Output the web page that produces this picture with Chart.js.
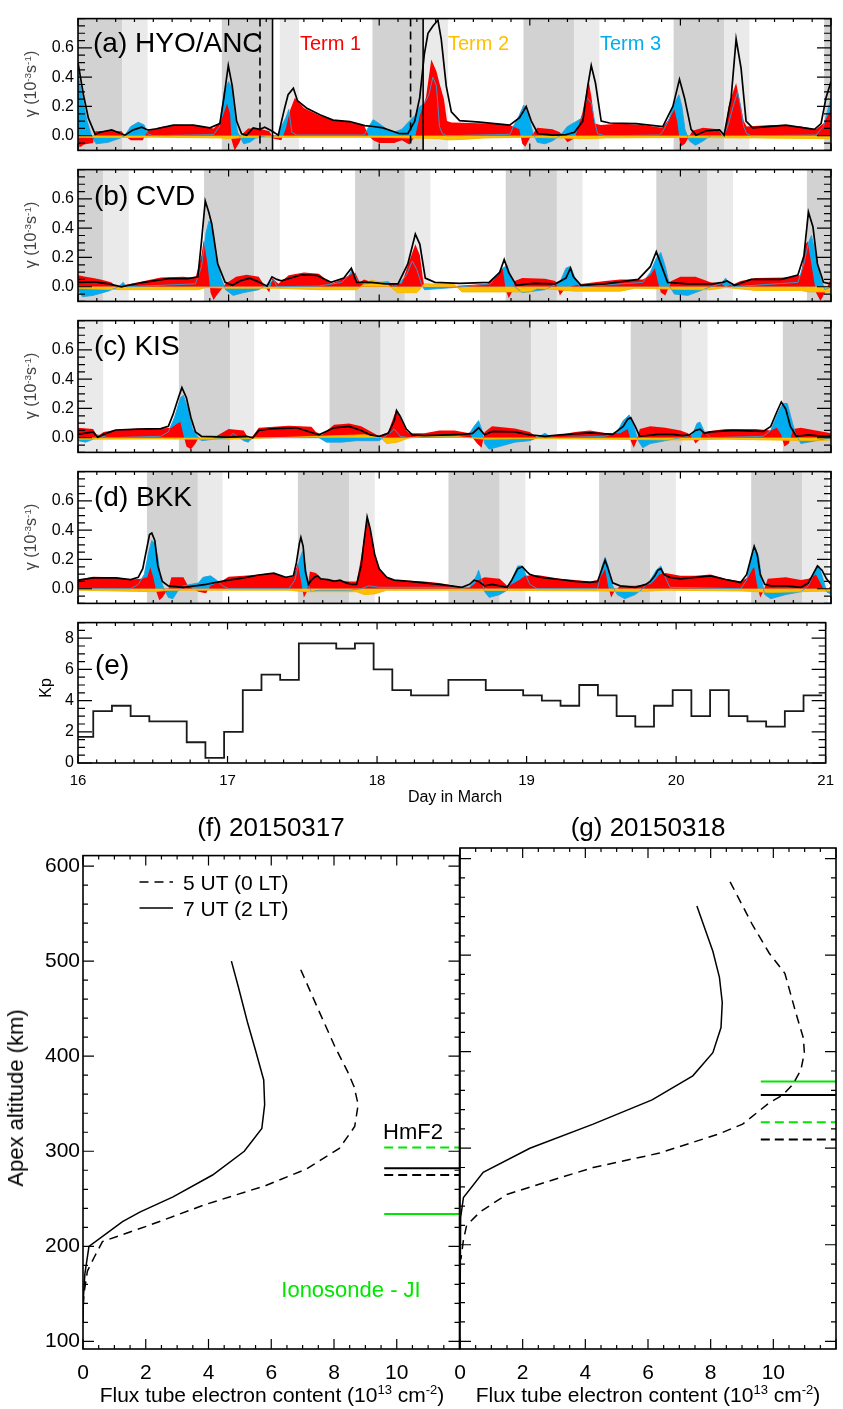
<!DOCTYPE html>
<html><head><meta charset="utf-8">
<script src="https://cdn.jsdelivr.net/npm/chart.js@4.4.0/dist/chart.umd.min.js"></script>
<style>
body{margin:0;background:#fff;width:843px;height:1409px;position:relative;overflow:hidden;font-family:"Liberation Sans",Arial,sans-serif;}
canvas{position:absolute;}
.t{position:absolute;white-space:nowrap;line-height:1;color:#000;}
.c{transform:translate(-50%,-50%);}
.l{transform:translateY(-50%);}
.r{transform:translate(-50%,-50%) rotate(-90deg);}
sup{font-size:62%;vertical-align:0.55em;line-height:0;}
</style></head><body>
<canvas id="pa" width="843" height="159" style="left:0;top:5px"></canvas>
<canvas id="pb" width="843" height="159" style="left:0;top:156px"></canvas>
<canvas id="pc" width="843" height="159" style="left:0;top:307px"></canvas>
<canvas id="pd" width="843" height="159" style="left:0;top:458px"></canvas>
<canvas id="pe" width="843" height="200" style="left:0;top:609px"></canvas>
<canvas id="pf" width="470" height="569" style="left:0;top:840px"></canvas>
<canvas id="pg" width="403" height="569" style="left:440px;top:840px"></canvas>

<div class="t l" style="left:93px;top:43px;font-size:28px">(a) HYO/ANC</div>
<div class="t l" style="left:300px;top:43px;font-size:20px;color:#FF0000">Term 1</div>
<div class="t l" style="left:448px;top:43px;font-size:20px;color:#FFC000">Term 2</div>
<div class="t l" style="left:600px;top:43px;font-size:20px;color:#00AEEF">Term 3</div>
<div class="t l" style="left:94px;top:196px;font-size:28px">(b) CVD</div>
<div class="t l" style="left:94px;top:346px;font-size:28px">(c) KIS</div>
<div class="t l" style="left:94px;top:497px;font-size:28px">(d) BKK</div>
<div class="t l" style="left:95px;top:665px;font-size:28px">(e)</div>
<div class="t r" style="left:31px;top:84px;font-size:16px;color:#444">γ (10<sup>-3</sup>s<sup>-1</sup>)</div>
<div class="t r" style="left:31px;top:235px;font-size:16px;color:#444">γ (10<sup>-3</sup>s<sup>-1</sup>)</div>
<div class="t r" style="left:31px;top:386px;font-size:16px;color:#444">γ (10<sup>-3</sup>s<sup>-1</sup>)</div>
<div class="t r" style="left:31px;top:537px;font-size:16px;color:#444">γ (10<sup>-3</sup>s<sup>-1</sup>)</div>
<div class="t r" style="left:46px;top:688px;font-size:16px">Kp</div>
<div class="t c" style="left:455px;top:797px;font-size:16px">Day in March</div>

<div class="t c" style="left:271px;top:827px;font-size:26px">(f) 20150317</div>
<div class="t c" style="left:648px;top:827px;font-size:26px">(g) 20150318</div>
<div class="t r" style="left:16px;top:1098px;font-size:22px">Apex altitude (km)</div>
<div class="t c" style="left:272px;top:1394px;font-size:21px">Flux tube electron content (10<sup>13</sup> cm<sup>-2</sup>)</div>
<div class="t c" style="left:648px;top:1394px;font-size:21px">Flux tube electron content (10<sup>13</sup> cm<sup>-2</sup>)</div>
<svg style="position:absolute;left:0;top:0" width="843" height="1409">
  <line x1="139.5" y1="882" x2="173" y2="882" stroke="#000" stroke-width="1.5" stroke-dasharray="9,6"/>
  <line x1="139.5" y1="908" x2="173" y2="908" stroke="#000" stroke-width="1.5"/>
</svg>
<div class="t l" style="left:183px;top:882px;font-size:21px">5 UT (0 LT)</div>
<div class="t l" style="left:183px;top:908px;font-size:21px">7 UT (2 LT)</div>
<div class="t l" style="left:383px;top:1132px;font-size:22px">HmF2</div>
<div class="t c" style="left:351px;top:1290px;font-size:22px;color:#00E600">Ionosonde - JI</div>

<script>
// ---------------- DATA ----------------
const dayTicks = [16,17,18,19,20,21];
const gammaTicks = [0.0,0.2,0.4,0.6];
const kpTicks = [0,2,4,6,8];
const profXTicks = [0,2,4,6,8,10];
const profYTicks = [100,200,300,400,500,600];

// profile times (UT on the day) marked in panel (a)
const profTimesDashed = [17.2083,18.2083];
const profTimesSolid = [17.2917,18.2917];

// night shading intervals (day of March)
const aDark = [[15.955,16.295],[16.955,17.288],[17.955,18.295],[18.958,19.296],[19.955,20.292],[20.955,21.29]];
const aLight = [[16.295,16.462],[17.34,17.467],[18.295,18.456],[19.296,19.462],[20.292,20.458]];
const bDark = [[15.84,16.167],[16.837,17.17],[17.84,18.17],[18.84,19.18],[19.84,20.18],[20.84,21.17]];
const bLight = [[16.167,16.337],[17.17,17.34],[18.17,18.34],[19.18,19.35],[20.18,20.35]];
const cDark = [[15.67,16.0],[16.67,17.01],[17.67,18.01],[18.67,19.01],[19.67,20.01],[20.68,21.01]];
const cLight = [[16.0,16.167],[17.01,17.17],[18.01,18.17],[19.01,19.18],[20.01,20.18]];
const dDark = [[16.458,16.796],[17.46,17.80],[18.46,18.80],[19.46,19.80],[20.47,20.81]];
const dLight = [[16.796,16.96],[17.80,17.97],[18.80,18.97],[19.80,19.97],[20.81,20.98]];

// (a) HYO/ANC
const aTotal = [[16.0,0.50],[16.036,0.28],[16.069,0.12],[16.114,0.01],[16.147,0.024],[16.224,0.04],[16.312,0.004],[16.367,0.04],[16.423,0.058],[16.467,0.038],[16.52,0.048],[16.633,0.073],[16.766,0.073],[16.876,0.054],[16.942,0.083],[16.969,0.26],[16.998,0.48],[17.024,0.34],[17.053,0.10],[17.086,0.014],[17.12,0.004],[17.163,0.054],[17.208,0.044],[17.24,0.058],[17.285,0.034],[17.33,0.004],[17.37,0.18],[17.395,0.28],[17.43,0.325],[17.457,0.24],[17.517,0.19],[17.606,0.143],[17.694,0.107],[17.805,0.097],[17.904,0.069],[17.96,0.063],[18.025,0.054],[18.08,0.034],[18.136,0.014],[18.19,0.014],[18.236,0.10],[18.269,0.26],[18.30,0.56],[18.324,0.70],[18.357,0.75],[18.39,0.79],[18.412,0.66],[18.445,0.34],[18.479,0.163],[18.534,0.103],[18.667,0.093],[18.866,0.073],[18.932,0.123],[18.976,0.20],[19.01,0.10],[19.054,0.014],[19.153,0.004],[19.241,0.008],[19.297,0.024],[19.352,0.10],[19.385,0.34],[19.408,0.48],[19.436,0.36],[19.474,0.10],[19.53,0.087],[19.706,0.083],[19.883,0.063],[19.95,0.20],[19.994,0.385],[20.027,0.26],[20.071,0.044],[20.104,0.004],[20.17,0.034],[20.26,0.04],[20.29,0.004],[20.337,0.26],[20.37,0.66],[20.403,0.46],[20.436,0.10],[20.48,0.054],[20.7,0.073],[20.89,0.044],[20.934,0.083],[20.967,0.26],[21.0,0.37]];
const aTerm1 = [[16.0,-0.02],[16.01,-0.08],[16.04,-0.06],[16.1,-0.05],[16.115,0.03],[16.2,0.035],[16.29,0.03],[16.31,0.0],[16.35,-0.03],[16.43,-0.03],[16.46,0.03],[16.55,0.06],[16.65,0.075],[16.8,0.07],[16.9,0.05],[16.95,0.1],[16.99,0.22],[17.01,0.15],[17.02,-0.03],[17.04,-0.1],[17.07,-0.05],[17.1,0.02],[17.13,0.05],[17.2,0.05],[17.27,0.03],[17.3,-0.02],[17.35,-0.03],[17.38,0.05],[17.41,0.18],[17.44,0.26],[17.5,0.19],[17.6,0.14],[17.7,0.105],[17.8,0.095],[17.9,0.07],[17.93,0.0],[17.96,-0.03],[18.0,-0.05],[18.1,-0.05],[18.15,-0.03],[18.2,-0.06],[18.24,0.0],[18.27,0.14],[18.31,0.26],[18.346,0.52],[18.38,0.44],[18.40,0.36],[18.43,0.25],[18.45,0.1],[18.48,0.09],[18.85,0.08],[18.866,0.073],[18.93,0.044],[18.95,-0.055],[18.97,-0.075],[19.0,-0.016],[19.05,0.054],[19.15,0.044],[19.2,0.024],[19.25,-0.045],[19.3,-0.016],[19.35,0.16],[19.39,0.38],[19.41,0.26],[19.43,0.083],[19.47,0.073],[19.6,0.083],[19.75,0.073],[19.88,0.054],[19.93,0.123],[19.96,0.18],[19.98,0.093],[20.0,-0.075],[20.03,-0.055],[20.08,0.034],[20.15,0.054],[20.25,0.044],[20.29,-0.016],[20.32,0.2],[20.35,0.3],[20.37,0.36],[20.39,0.26],[20.42,0.1],[20.44,0.063],[20.6,0.073],[20.8,0.063],[20.9,0.044],[20.95,0.083],[21.0,0.18]];
const aTerm2 = [[16.0,-0.01],[16.3,-0.012],[16.5,-0.01],[16.95,-0.015],[17.0,-0.02],[17.1,-0.012],[17.5,-0.01],[18.0,-0.01],[18.4,-0.02],[18.45,-0.028],[18.55,-0.025],[18.7,-0.015],[19.0,-0.01],[19.4,-0.02],[19.5,-0.015],[20.0,-0.012],[20.4,-0.015],[20.5,-0.015],[21.0,-0.02]];
const aTerm3 = [[16.0,0.42],[16.03,0.26],[16.06,0.10],[16.09,0.0],[16.12,-0.055],[16.2,-0.045],[16.28,-0.016],[16.31,0],[16.35,0.063],[16.4,0.093],[16.44,0.073],[16.46,0.014],[16.5,0],[16.9,0.008],[16.94,0.063],[16.97,0.30],[17.0,0.37],[17.02,0.33],[17.04,0.14],[17.06,0.024],[17.1,-0.055],[17.14,-0.045],[17.18,-0.016],[17.25,0],[17.33,0],[17.35,0.063],[17.38,0.123],[17.40,0.18],[17.42,0.024],[17.45,0.005],[17.9,0.005],[17.93,0.06],[17.96,0.11],[18.0,0.083],[18.05,0.044],[18.1,0.024],[18.15,0.044],[18.2,0.10],[18.24,0.14],[18.27,0.2],[18.3,0.22],[18.33,0.28],[18.356,0.40],[18.38,0.34],[18.4,0.063],[18.42,0.014],[18.45,0],[18.87,0.01],[18.89,0.063],[18.93,0.14],[18.96,0.21],[18.99,0.14],[19.02,0.024],[19.05,-0.045],[19.1,-0.055],[19.15,-0.036],[19.2,0],[19.25,0.063],[19.3,0.093],[19.35,0.123],[19.38,0.26],[19.41,0.22],[19.43,0.1],[19.45,0.014],[19.5,0],[19.86,0.005],[19.88,0.024],[19.92,0.1],[19.96,0.22],[19.99,0.28],[20.01,0.2],[20.03,0.044],[20.06,-0.036],[20.1,-0.065],[20.15,-0.036],[20.2,0],[20.29,0],[20.32,0.083],[20.35,0.2],[20.38,0.3],[20.4,0.2],[20.42,0.063],[20.44,0.014],[20.47,0],[20.9,0.005],[20.95,0.063],[21.0,0.26]];

// (b) CVD
const bTotal = [[16.0,0.03],[16.107,0.033],[16.206,0.02],[16.288,0.0],[16.337,0.01],[16.435,0.03],[16.6,0.055],[16.73,0.055],[16.796,0.068],[16.82,0.31],[16.845,0.586],[16.868,0.51],[16.888,0.43],[16.928,0.156],[16.977,0.03],[17.026,0.01],[17.076,0.04],[17.14,0.059],[17.206,0.03],[17.255,0.004],[17.288,0.068],[17.32,0.05],[17.35,0.04],[17.486,0.082],[17.585,0.078],[17.68,0.03],[17.765,0.059],[17.815,0.127],[17.85,0.03],[17.946,0.03],[18.04,0.02],[18.125,0.02],[18.19,0.156],[18.24,0.36],[18.27,0.29],[18.306,0.059],[18.37,0.03],[18.536,0.023],[18.73,0.03],[18.8,0.098],[18.83,0.186],[18.86,0.098],[18.91,0.01],[19.02,0.023],[19.17,0.02],[19.24,0.059],[19.27,0.127],[19.29,0.068],[19.34,0.01],[19.5,0.02],[19.72,0.05],[19.8,0.137],[19.84,0.24],[19.87,0.156],[19.915,0.03],[20.05,0.02],[20.21,0.02],[20.28,0.03],[20.31,0.04],[20.36,0.01],[20.47,0.05],[20.67,0.05],[20.78,0.08],[20.82,0.21],[20.85,0.51],[20.88,0.41],[20.91,0.156],[20.95,0.03],[21.0,0.02]];
const bTerm1 = [[16.0,0.078],[16.05,0.068],[16.1,0.059],[16.15,0.05],[16.22,0.03],[16.28,-0.02],[16.3,0.01],[16.4,0.03],[16.55,0.063],[16.7,0.068],[16.78,0.059],[16.82,0.215],[16.835,0.32],[16.86,0.156],[16.88,-0.04],[16.9,-0.09],[16.92,-0.06],[16.95,-0.02],[16.98,0.02],[17.05,0.068],[17.12,0.082],[17.2,0.068],[17.25,-0.01],[17.27,-0.04],[17.29,0.059],[17.33,0.02],[17.4,0.078],[17.5,0.098],[17.6,0.088],[17.68,0.02],[17.75,0.05],[17.8,0.078],[17.84,0.098],[17.87,0.03],[17.9,0.05],[17.95,0.03],[18.05,0.02],[18.15,0.02],[18.2,0.176],[18.24,0.29],[18.27,0.215],[18.29,0.059],[18.3,0.0],[18.5,0.005],[18.72,0.02],[18.79,0.078],[18.82,0.127],[18.84,-0.02],[18.86,-0.078],[18.88,-0.04],[18.9,0.04],[18.95,0.059],[19.1,0.055],[19.17,0.04],[19.2,-0.06],[19.22,-0.03],[19.26,0.0],[19.35,0.02],[19.5,0.04],[19.6,0.05],[19.75,0.05],[19.8,0.078],[19.83,0.127],[19.85,0.04],[19.87,-0.04],[19.9,-0.06],[19.94,0.04],[20.0,0.068],[20.1,0.068],[20.2,0.03],[20.27,0.02],[20.3,0.0],[20.36,0.02],[20.4,0.04],[20.5,0.059],[20.7,0.063],[20.8,0.078],[20.83,0.29],[20.845,0.31],[20.87,0.156],[20.9,-0.04],[20.93,-0.098],[20.96,-0.04],[21.0,0.059]];
const bTerm2 = [[16.0,-0.01],[16.1,-0.015],[16.3,-0.02],[16.8,-0.02],[16.85,-0.005],[17.0,-0.01],[17.3,-0.01],[17.6,-0.02],[17.85,-0.02],[17.9,0.02],[17.95,0.045],[18.05,0.02],[18.12,-0.04],[18.25,-0.04],[18.3,0.02],[18.5,0.015],[18.55,-0.035],[19.0,-0.035],[19.05,-0.01],[19.3,-0.03],[19.6,-0.03],[19.7,-0.01],[20.1,-0.02],[20.2,-0.02],[20.3,-0.005],[20.5,-0.025],[20.8,-0.025],[20.85,-0.035],[21.0,-0.035]];
const bTerm3 = [[16.0,-0.02],[16.03,-0.068],[16.1,-0.059],[16.2,-0.03],[16.27,0.0],[16.3,0.03],[16.32,0.0],[16.78,0.02],[16.82,0.137],[16.85,0.37],[16.87,0.45],[16.885,0.43],[16.91,0.234],[16.95,0.059],[16.98,-0.02],[17.03,-0.059],[17.1,-0.04],[17.2,-0.02],[17.28,0.03],[17.3,0.05],[17.32,0.0],[17.6,0.005],[17.75,0.03],[17.8,0.078],[17.82,0.117],[17.86,0.03],[17.9,0.02],[18.0,0.03],[18.06,0.035],[18.1,0.0],[18.14,0.03],[18.18,0.078],[18.22,0.176],[18.25,0.117],[18.28,0.02],[18.3,-0.02],[18.5,-0.005],[18.74,0.02],[18.78,0.078],[18.82,0.127],[18.85,0.146],[18.87,0.078],[18.9,0.0],[18.95,-0.04],[19.1,-0.02],[19.2,0.03],[19.24,0.127],[19.27,0.14],[19.3,0.059],[19.33,0.0],[19.75,0.03],[19.8,0.098],[19.84,0.195],[19.87,0.234],[19.9,0.137],[19.93,0.0],[19.96,-0.05],[20.05,-0.059],[20.15,-0.02],[20.2,0.0],[20.27,0.02],[20.3,0.059],[20.32,0.03],[20.35,0.0],[20.78,0.03],[20.82,0.156],[20.85,0.3],[20.87,0.35],[20.9,0.215],[20.93,0.059],[20.96,-0.02],[21.0,0.0]];

// (c) KIS
const cTotal = [[16.0,0.023],[16.1,0.04],[16.13,0.004],[16.17,0.023],[16.25,0.053],[16.4,0.059],[16.55,0.063],[16.6,0.078],[16.63,0.156],[16.67,0.283],[16.69,0.342],[16.72,0.273],[16.75,0.137],[16.78,0.04],[16.82,0.01],[17.0,0.004],[17.12,0.01],[17.16,0.0],[17.2,0.05],[17.3,0.063],[17.45,0.068],[17.6,0.02],[17.7,0.068],[17.8,0.078],[17.88,0.05],[17.94,0.02],[18.0,0.01],[18.06,0.03],[18.1,0.117],[18.115,0.186],[18.14,0.146],[18.18,0.059],[18.22,0.02],[18.3,0.014],[18.45,0.02],[18.55,0.023],[18.62,0.03],[18.66,0.068],[18.7,0.02],[18.75,0.043],[18.9,0.04],[19.0,0.02],[19.1,0.01],[19.2,0.02],[19.4,0.033],[19.55,0.023],[19.62,0.078],[19.65,0.127],[19.67,0.137],[19.7,0.078],[19.73,0.01],[19.85,0.023],[19.95,0.023],[20.02,0.014],[20.06,0.02],[20.1,0.05],[20.13,0.059],[20.16,0.03],[20.2,0.04],[20.35,0.05],[20.55,0.043],[20.6,0.078],[20.64,0.176],[20.67,0.244],[20.7,0.195],[20.73,0.078],[20.77,0.01],[20.85,0.02],[20.95,0.01],[21.0,0.01]];
const cTerm1 = [[16.0,0.068],[16.1,0.059],[16.13,0.01],[16.17,0.04],[16.25,0.053],[16.4,0.063],[16.55,0.063],[16.62,0.068],[16.66,0.098],[16.68,0.107],[16.7,0.02],[16.72,-0.059],[16.75,-0.078],[16.78,-0.04],[16.8,0.0],[16.9,0.0],[17.0,0.059],[17.1,0.05],[17.13,0.0],[17.16,0.01],[17.2,0.068],[17.4,0.082],[17.55,0.075],[17.58,0.04],[17.62,0.02],[17.7,0.088],[17.8,0.098],[17.88,0.078],[17.95,0.04],[18.0,0.01],[18.06,0.04],[18.1,0.156],[18.115,0.186],[18.14,0.137],[18.18,0.05],[18.2,0.03],[18.3,0.03],[18.4,0.05],[18.5,0.05],[18.6,0.03],[18.62,0.0],[18.65,-0.04],[18.68,-0.068],[18.7,0.04],[18.75,0.078],[18.9,0.063],[19.0,0.04],[19.05,0.0],[19.15,0.01],[19.3,0.04],[19.4,0.05],[19.5,0.033],[19.6,0.03],[19.65,0.059],[19.67,-0.02],[19.69,-0.068],[19.71,-0.02],[19.73,0.059],[19.8,0.078],[19.9,0.068],[20.0,0.05],[20.05,0.03],[20.08,0.0],[20.1,-0.04],[20.13,-0.01],[20.15,0.04],[20.3,0.059],[20.5,0.059],[20.6,0.05],[20.64,0.068],[20.67,0.02],[20.69,-0.059],[20.72,-0.04],[20.75,0.059],[20.8,0.068],[20.9,0.05],[21.0,0.03]];
const cTerm2 = [[16.0,-0.01],[16.5,-0.008],[17.0,-0.01],[17.6,0.01],[17.9,0.02],[18.0,0.01],[18.05,-0.04],[18.12,-0.03],[18.2,0.0],[18.3,0.01],[18.5,0.01],[18.7,-0.01],[19.0,-0.005],[19.5,-0.01],[20.0,-0.015],[20.3,-0.01],[20.6,-0.015],[20.9,-0.02],[21.0,-0.015]];
const cTerm3 = [[16.0,-0.02],[16.05,-0.03],[16.1,-0.01],[16.13,0.02],[16.2,0.0],[16.55,0.01],[16.6,0.04],[16.64,0.137],[16.68,0.273],[16.7,0.29],[16.73,0.195],[16.76,0.059],[16.8,0.0],[16.82,-0.02],[16.9,-0.01],[17.0,0.0],[17.03,0.03],[17.1,-0.02],[17.13,-0.03],[17.16,0.0],[17.6,0.0],[17.65,-0.03],[17.75,-0.03],[17.85,-0.02],[18.0,-0.02],[18.08,0.04],[18.1,0.059],[18.14,0.01],[18.2,0.0],[18.5,0.01],[18.6,0.03],[18.63,0.078],[18.66,0.117],[18.68,0.059],[18.7,-0.04],[18.73,-0.078],[18.8,-0.059],[18.9,-0.03],[19.0,-0.02],[19.05,0.0],[19.1,0.03],[19.15,0.0],[19.5,0.01],[19.58,0.04],[19.62,0.117],[19.66,0.156],[19.69,0.078],[19.72,-0.02],[19.75,-0.068],[19.8,-0.04],[19.9,-0.02],[20.0,0.0],[20.08,0.02],[20.11,0.098],[20.13,0.107],[20.16,0.04],[20.2,0.0],[20.55,0.01],[20.6,0.05],[20.65,0.176],[20.68,0.234],[20.71,0.234],[20.73,0.156],[20.76,0.04],[20.8,-0.04],[20.9,-0.02],[21.0,0.0]];

// (d) BKK
const dTotal = [[16.0,0.059],[16.1,0.074],[16.25,0.074],[16.35,0.063],[16.4,0.078],[16.43,0.137],[16.46,0.293],[16.475,0.37],[16.49,0.38],[16.51,0.33],[16.53,0.156],[16.56,0.05],[16.6,0.02],[16.7,0.01],[16.78,0.02],[16.85,0.03],[16.9,0.04],[17.0,0.059],[17.1,0.074],[17.2,0.094],[17.3,0.107],[17.38,0.078],[17.43,0.088],[17.45,0.176],[17.47,0.31],[17.48,0.35],[17.495,0.29],[17.51,0.117],[17.53,0.03],[17.55,0.059],[17.57,0.078],[17.59,0.088],[17.61,0.068],[17.66,0.063],[17.7,0.05],[17.74,0.059],[17.78,0.04],[17.82,0.03],[17.85,0.03],[17.88,0.156],[17.9,0.33],[17.92,0.49],[17.94,0.41],[17.97,0.234],[18.0,0.137],[18.05,0.078],[18.1,0.059],[18.2,0.05],[18.3,0.04],[18.4,0.03],[18.55,0.01],[18.6,0.03],[18.63,0.059],[18.66,0.05],[18.7,0.02],[18.75,0.03],[18.8,0.02],[18.85,0.01],[18.88,0.059],[18.92,0.137],[18.95,0.15],[18.98,0.117],[19.0,0.098],[19.05,0.082],[19.1,0.074],[19.2,0.063],[19.3,0.05],[19.4,0.043],[19.45,0.05],[19.48,0.137],[19.5,0.195],[19.52,0.137],[19.55,0.04],[19.6,0.02],[19.7,0.01],[19.77,0.03],[19.8,0.05],[19.83,0.088],[19.85,0.127],[19.87,0.137],[19.89,0.098],[19.93,0.078],[20.0,0.068],[20.1,0.078],[20.2,0.088],[20.3,0.063],[20.4,0.043],[20.44,0.098],[20.47,0.215],[20.49,0.29],[20.51,0.234],[20.53,0.098],[20.56,0.03],[20.6,0.02],[20.7,0.02],[20.8,0.01],[20.85,0.04],[20.88,0.098],[20.91,0.156],[20.94,0.127],[20.97,0.068],[21.0,0.03]];
const dTerm1 = [[16.0,0.059],[16.1,0.082],[16.25,0.078],[16.35,0.063],[16.42,0.068],[16.46,0.078],[16.48,0.146],[16.5,0.078],[16.52,-0.02],[16.54,-0.078],[16.56,-0.059],[16.6,0.0],[16.62,0.078],[16.7,0.078],[16.73,0.02],[16.8,-0.02],[16.85,-0.03],[16.88,0.02],[16.95,0.05],[17.0,0.082],[17.1,0.088],[17.2,0.098],[17.3,0.107],[17.38,0.074],[17.43,0.082],[17.46,0.176],[17.48,0.059],[17.5,-0.059],[17.52,-0.02],[17.54,0.117],[17.58,0.107],[17.62,0.068],[17.7,0.059],[17.8,0.05],[17.85,0.05],[17.88,0.215],[17.9,0.35],[17.92,0.49],[17.94,0.41],[17.97,0.244],[18.0,0.137],[18.05,0.078],[18.1,0.059],[18.3,0.05],[18.4,0.04],[18.5,0.02],[18.55,0.0],[18.6,0.01],[18.63,0.03],[18.66,0.059],[18.7,0.078],[18.8,0.068],[18.85,0.02],[18.88,0.03],[18.93,0.059],[18.97,0.088],[19.05,0.094],[19.2,0.068],[19.3,0.059],[19.4,0.05],[19.45,0.059],[19.48,0.098],[19.5,0.137],[19.52,0.02],[19.54,-0.059],[19.56,-0.02],[19.6,0.02],[19.7,0.02],[19.8,0.03],[19.83,0.059],[19.86,0.098],[19.9,0.107],[20.0,0.088],[20.1,0.088],[20.2,0.098],[20.3,0.068],[20.4,0.05],[20.45,0.078],[20.48,0.137],[20.49,0.146],[20.51,0.02],[20.53,-0.059],[20.55,-0.02],[20.58,0.068],[20.7,0.078],[20.8,0.059],[20.85,0.068],[20.9,0.098],[20.93,0.04],[20.96,-0.02],[21.0,0.02]];
const dTerm2 = [[16.0,-0.01],[16.5,-0.02],[16.6,-0.01],[17.4,-0.01],[17.5,-0.02],[17.85,-0.02],[17.9,-0.04],[17.97,-0.035],[18.05,-0.01],[18.6,-0.01],[19.5,-0.015],[19.7,-0.02],[19.9,-0.01],[20.4,-0.015],[20.6,-0.025],[20.8,-0.02],[21.0,-0.015]];
const dTerm3 = [[16.0,0.0],[16.35,0.0],[16.4,0.03],[16.44,0.098],[16.47,0.254],[16.49,0.33],[16.51,0.31],[16.53,0.215],[16.55,0.059],[16.57,0.0],[16.6,-0.059],[16.63,-0.068],[16.66,-0.02],[16.7,0.02],[16.8,0.04],[16.83,0.078],[16.88,0.088],[16.92,0.059],[16.96,0.02],[17.0,0.0],[17.4,0.0],[17.44,0.059],[17.47,0.195],[17.49,0.254],[17.51,0.156],[17.53,0.02],[17.55,-0.02],[17.6,-0.01],[17.8,-0.01],[17.88,0.0],[17.93,0.02],[18.0,0.01],[18.6,0.01],[18.62,0.04],[18.65,0.098],[18.66,0.127],[18.68,0.059],[18.7,-0.02],[18.73,-0.059],[18.8,-0.04],[18.85,-0.01],[18.88,0.059],[18.92,0.156],[18.95,0.156],[18.98,0.078],[19.0,0.03],[19.05,0.0],[19.45,0.0],[19.48,0.156],[19.5,0.215],[19.52,0.156],[19.55,0.02],[19.58,-0.04],[19.63,-0.068],[19.7,-0.04],[19.75,0.0],[19.8,0.059],[19.84,0.127],[19.87,0.156],[19.9,0.078],[19.93,0.01],[20.4,0.0],[20.44,0.059],[20.47,0.215],[20.5,0.273],[20.52,0.215],[20.54,0.059],[20.56,-0.04],[20.6,-0.068],[20.7,-0.04],[20.8,-0.02],[20.85,0.02],[20.9,0.137],[20.92,0.156],[20.95,0.059],[20.97,-0.02],[21.0,-0.04]];

// (e) Kp, 3-hourly
const kpStart = 15.977;
const kpStep = 0.125;
const kpValues = [1.67,3.33,3.67,3.0,2.67,2.67,1.33,0.33,2.0,4.67,5.67,5.33,7.67,7.67,7.33,7.67,6.0,4.67,4.33,4.33,5.33,5.33,4.67,4.67,4.33,4.0,3.67,5.0,4.33,3.0,2.33,3.67,4.67,3.0,4.67,3.0,2.67,2.33,3.33,4.33];

// (f) 20150317 profiles [content, apex altitude]
const f7ut = [[4.73,500],[4.95,473],[5.24,436],[5.50,406],[5.76,375],[5.79,349],[5.70,324],[5.14,300],[4.13,275],[2.87,252],[1.81,236],[1.26,226],[0.19,200],[0.06,171],[0.01,145],[0,120]];
const f5ut = [[6.94,491],[7.50,449],[8.03,410],[8.43,384],[8.64,368],[8.77,349],[8.66,326],[8.17,303],[7.1,281],[5.83,264],[3.9,244],[2.1,222],[0.62,205],[0.35,188],[0.14,174],[0.03,150],[0,130]];
const fHmf2 = {ion5:304, ion7:234, mod5:275, mod7:282};
// (g) 20150318 profiles
const g7ut = [[7.56,551],[8.07,504],[8.28,477],[8.37,451],[8.33,425],[8.07,399],[7.43,375],[6.13,350],[4.25,325],[2.23,300],[0.74,275],[0.11,249],[0.02,228],[0,200],[0,120]];
const g5ut = [[8.62,576],[9.34,531],[9.87,502],[10.37,481],[10.72,440],[10.96,414],[10.99,399],[10.88,381],[10.62,366],[10.30,355],[9.87,347],[9.02,325],[8.28,315],[6.37,295],[4.25,280],[2.65,264],[1.49,252],[0.64,234],[0.21,220],[0.11,205],[0.03,185]];
const gHmf2 = {ion5:327, ion7:369, mod5:309, mod7:355};
const hmLineX = [9.6,12];

// ---------------- HELPERS ----------------
Chart.defaults.font.family = "'Liberation Sans', Arial, sans-serif";
Chart.defaults.color = '#000';
function pts(pairs){ return pairs.map(p => ({x:p[0], y:p[1]})); }
function seq(a,b,s){ const r=[]; for(let v=a; v<=b+1e-9; v+=s) r.push(+v.toFixed(6)); return r; }

function makeShade(dark, light){
  return {id:'shade', beforeDatasetsDraw(chart){
    const {ctx, chartArea:a, scales:{x}} = chart;
    ctx.save();
    ctx.beginPath(); ctx.rect(a.left, a.top, a.right-a.left, a.bottom-a.top); ctx.clip();
    const draw = (list, col) => { ctx.fillStyle = col; list.forEach(iv => {
      const x0 = x.getPixelForValue(iv[0]), x1 = x.getPixelForValue(iv[1]);
      ctx.fillRect(x0, a.top, x1-x0, a.bottom-a.top); }); };
    draw(dark, '#D2D2D2'); draw(light, '#EAEAEA');
    ctx.restore();
  }};
}
function makeVlines(solid, dashed){
  return {id:'vlines', afterDatasetsDraw(chart){
    const {ctx, chartArea:a, scales:{x}} = chart;
    ctx.save(); ctx.strokeStyle = '#000'; ctx.lineWidth = 1.6;
    solid.forEach(v => { const p = x.getPixelForValue(v); ctx.beginPath(); ctx.moveTo(p,a.top); ctx.lineTo(p,a.bottom); ctx.stroke(); });
    ctx.setLineDash([8,5]);
    dashed.forEach(v => { const p = x.getPixelForValue(v); ctx.beginPath(); ctx.moveTo(p,a.top); ctx.lineTo(p,a.bottom); ctx.stroke(); });
    ctx.restore();
  }};
}
function makeBox(o){
  return {id:'idlBox', afterDraw(chart){
    const {ctx, chartArea:a, scales:{x:xs, y:ys}} = chart;
    ctx.save(); ctx.strokeStyle = '#000'; ctx.lineWidth = o.lw;
    ctx.beginPath();
    const inX = p => p >= a.left-0.6 && p <= a.right+0.6;
    const inY = p => p >= a.top-0.6 && p <= a.bottom+0.6;
    const xt = (vals,len) => vals.forEach(v => { const p = xs.getPixelForValue(v); if(!inX(p)) return;
      ctx.moveTo(p,a.bottom); ctx.lineTo(p,a.bottom-len); ctx.moveTo(p,a.top); ctx.lineTo(p,a.top+len); });
    const yt = (vals,len) => vals.forEach(v => { const p = ys.getPixelForValue(v); if(!inY(p)) return;
      ctx.moveTo(a.left,p); ctx.lineTo(a.left+len,p); ctx.moveTo(a.right,p); ctx.lineTo(a.right-len,p); });
    xt(o.xMinor, o.xMinLen); xt(o.xMajor, o.xMajLen); yt(o.yMinor, o.yMinLen); yt(o.yMajor, o.yMajLen);
    ctx.stroke();
    ctx.lineWidth = o.bw;
    ctx.strokeRect(a.left, a.top, a.right-a.left, a.bottom-a.top);
    ctx.restore();
  }};
}
const baseOpts = () => ({responsive:false, animation:false, events:[], parsing:false,
  elements:{point:{radius:0}, line:{tension:0}},
  plugins:{legend:{display:false}, tooltip:{enabled:false}}});

const dayBox = (yMajor, yMinor) => makeBox({lw:1.2, bw:1.6, xMajor:dayTicks, xMinor:seq(16,21,0.125), xMajLen:7, xMinLen:3.5, yMajor, yMinor, yMajLen:14, yMinLen:7});

function gammaPanel(id, total, t1, t2, t3, dark, light, vs, vd){
  const o = baseOpts();
  o.layout = {padding:{left:0, right:12, top:4, bottom:4}};
  o.scales = {
    x:{type:'linear', min:16, max:21, display:false},
    y:{type:'linear', min:-0.1, max:0.8, grid:{display:false, drawTicks:false}, border:{display:false},
       afterFit:s=>{s.width=78;}, afterBuildTicks:s=>{s.ticks=gammaTicks.map(v=>({value:v}));},
       ticks:{padding:4, font:{size:16}, callback:v=>v.toFixed(1)}}
  };
  const ds = [
    {data:pts(total), borderColor:'#000', borderWidth:1.7, fill:false, order:0},
    {data:pts(t2), borderColor:'#F4B400', borderWidth:0.9, fill:false, order:1},
    {data:pts(t3), borderColor:'#2F9FDA', borderWidth:0.9, fill:false, order:2},
    {data:pts(t2), borderWidth:0, borderColor:'rgba(0,0,0,0)', backgroundColor:'#FFC000', fill:'origin', order:3},
    {data:pts(t1), borderWidth:0, borderColor:'rgba(0,0,0,0)', backgroundColor:'#FF0000', fill:'origin', order:4},
    {data:pts(t3), borderWidth:0, borderColor:'rgba(0,0,0,0)', backgroundColor:'#00AEEF', fill:'origin', order:5}
  ];
  const plugins = [makeShade(dark, light), dayBox(seq(0,0.6,0.2), seq(-0.1,0.8,0.05))];
  if (vs) plugins.splice(1,0,makeVlines(vs, vd));
  new Chart(document.getElementById(id), {type:'line', data:{datasets:ds}, options:o, plugins});
}

gammaPanel('pa', aTotal, aTerm1, aTerm2, aTerm3, aDark, aLight, profTimesSolid, profTimesDashed);
gammaPanel('pb', bTotal, bTerm1, bTerm2, bTerm3, bDark, bLight);
gammaPanel('pc', cTotal, cTerm1, cTerm2, cTerm3, cDark, cLight);
gammaPanel('pd', dTotal, dTerm1, dTerm2, dTerm3, dDark, dLight);

// Kp panel
(function(){
  const kpPts = [];
  kpValues.forEach((v,i) => { const t0 = kpStart + i*kpStep; kpPts.push({x:t0, y:v}, {x:t0+kpStep, y:v}); });
  const o = baseOpts();
  o.layout = {padding:{left:0, right:12, top:4, bottom:0}};
  o.scales = {
    x:{type:'linear', min:16, max:21, grid:{display:false, drawTicks:false}, border:{display:false},
       afterFit:s=>{s.height=46;}, afterBuildTicks:s=>{s.ticks=dayTicks.map(v=>({value:v}));},
       ticks:{padding:9, font:{size:15}, autoSkip:false, maxRotation:0, callback:v=>String(v)}},
    y:{type:'linear', min:0, max:9, grid:{display:false, drawTicks:false}, border:{display:false},
       afterFit:s=>{s.width=78;}, afterBuildTicks:s=>{s.ticks=kpTicks.map(v=>({value:v}));},
       ticks:{padding:4, font:{size:16}, callback:v=>String(v)}}
  };
  new Chart(document.getElementById('pe'), {type:'line',
    data:{datasets:[{data:kpPts, borderColor:'#1a1a1a', borderWidth:1.8, fill:false}]},
    options:o, plugins:[dayBox(kpTicks, seq(0,9,0.5))]});
})();

// profile panels
function profilePanel(id, solid, dashed, hm, showY, padL, padR){
  const o = baseOpts();
  o.layout = {padding:{left:padL, right:padR, top:8, bottom:0}};
  o.scales = {
    x:{type:'linear', min:0, max:12, grid:{display:false, drawTicks:false}, border:{display:false},
       afterFit:s=>{s.height=60;}, afterBuildTicks:s=>{s.ticks=profXTicks.map(v=>({value:v}));},
       ticks:{padding:12, font:{size:21}, autoSkip:false, maxRotation:0, callback:v=>String(v)}},
    y:{type:'linear', min:92, max:611, display:showY, grid:{display:false, drawTicks:false}, border:{display:false},
       afterFit:s=>{s.width = showY ? 83 : 0;}, afterBuildTicks:s=>{s.ticks=profYTicks.map(v=>({value:v}));},
       ticks:{padding:3, font:{size:21}, callback:v=>String(v)}}
  };
  const green = '#00E600';
  const hl = (y, col, dash) => ({data:[{x:hmLineX[0], y}, {x:hmLineX[1], y}], borderColor:col, borderWidth:2, borderDash:dash, fill:false});
  const ds = [
    {data:pts(solid), borderColor:'#000', borderWidth:1.5, fill:false},
    {data:pts(dashed), borderColor:'#000', borderWidth:1.5, borderDash:[9,6], fill:false},
    hl(hm.ion5, green, [9,5]), hl(hm.ion7, green, []),
    hl(hm.mod5, '#000', [9,5]), hl(hm.mod7, '#000', [])
  ];
  new Chart(document.getElementById(id), {type:'line', data:{datasets:ds}, options:o,
    plugins:[makeBox({lw:1.2, bw:1.6, xMajor:seq(0,12,2), xMinor:seq(0,12,0.5), xMajLen:10, xMinLen:4,
      yMajor:profYTicks, yMinor:seq(100,600,20), yMajLen:11, yMinLen:5})]});
}
profilePanel('pf', f7ut, f5ut, fHmf2, true, 0, 10.5);
profilePanel('pg', g7ut, g5ut, gHmf2, false, 20, 7);
</script>
</body></html>
